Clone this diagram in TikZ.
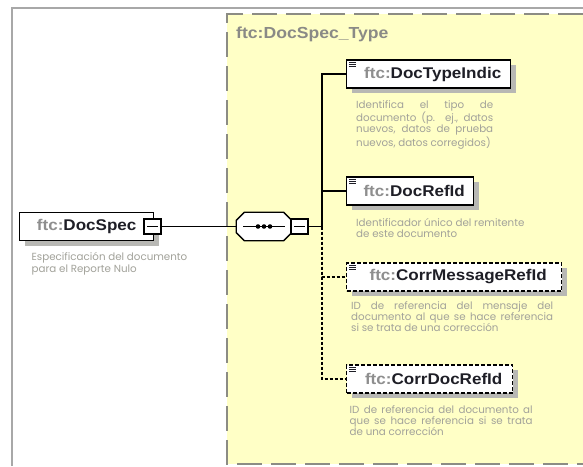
\documentclass[tikz,border=0pt]{standalone}
\usepackage{fontspec}
\usetikzlibrary{shadows}
\newfontfamily\namefont[FakeStretch=1.1]{Liberation Sans}
\newfontfamily\descfont{Poppins}
\definecolor{yellowbg}{HTML}{FFFFC6}
\definecolor{framecol}{HTML}{A8A8A8}
\definecolor{dashcol}{HTML}{8C8C84}
\definecolor{titlecol}{HTML}{8A8A86}
\definecolor{desccol}{HTML}{A2A29A}
\definecolor{prefcol}{HTML}{8E8E8E}
\definecolor{namecol}{HTML}{1E1E26}
\definecolor{shadowcol}{HTML}{B8B8B4}
\newcommand{\pref}[1]{\textcolor{prefcol}{#1}}
\tikzset{
  elem/.style={draw=black, line width=1.4pt, fill=white,
    font=\namefont\bfseries\fontsize{15.5}{18}\selectfont, text=namecol,
    minimum height=28, inner sep=0, anchor=west,
    drop shadow={shadow xshift=5pt, shadow yshift=-5pt, fill=shadowcol, opacity=1}},
  optelem/.style={elem, dash pattern=on 4pt off 2pt},
  minusbox/.style={draw=black, line width=1.3pt, fill=white, minimum width=17, minimum height=15, inner sep=0,
    path picture={\draw[line width=1.1pt] ([xshift=3pt]path picture bounding box.west) -- ([xshift=-3pt]path picture bounding box.east);}},
  seqbox/.style={draw=none, minimum width=55, minimum height=28, inner sep=0},
  desc/.style={font=\descfont\fontsize{10.3}{11.4}\selectfont, text=desccol, anchor=north west, inner sep=0},
  conn/.style={line width=1.3pt, draw=black},
  optconn/.style={line width=1.3pt, draw=black, dash pattern=on 3pt off 2pt},
  titlest/.style={font=\namefont\bfseries\fontsize{16}{19}\selectfont, text=titlecol, anchor=west, inner sep=0},
  icon/.style={line width=0.7pt, draw=namecol}
}
\newcommand{\octo}[1]{([xshift=8pt]#1.north west) -- ([xshift=-8pt]#1.north east) -- ([yshift=-8pt]#1.north east) -- ([yshift=8pt]#1.south east) -- ([xshift=-8pt]#1.south east) -- ([xshift=8pt]#1.south west) -- ([yshift=8pt]#1.south west) -- ([yshift=-8pt]#1.north west) -- cycle}
\begin{document}
\begin{tikzpicture}[x=1pt,y=-1pt]
\useasboundingbox (0,0) rectangle (583,466);
\fill[white] (0,0) rectangle (583,466);
% outer frame
\draw[framecol, line width=1.6pt] (12,466) -- (12,8) -- (583,8);
% type area
\fill[yellowbg] (227,14) rectangle (583,464);
\draw[dashcol, line width=1.5pt, dash pattern=on 25pt off 9pt] (583,14) -- (227,14) -- (227,464) -- (583,464);
\node[titlest] (title) at (236,34) {ftc:DocSpec\_Type};

% root element
\node[elem, minimum width=134] (spec) at (19,226.5) {\pref{ftc:}DocSpec};
\node[minusbox] (specm) at (152.5,226.5) {};
\node[desc, align=left] (dspec) at (31.5,252.5) {Especificación del documento\\para el Reporte Nulo};

% sequence compositor
\node[seqbox] (seq) at (264,226.5) {};
\fill[shadowcol, shift={(5,5)}] \octo{seq};
\draw[line width=1.3pt, fill=white] \octo{seq};
\draw[line width=1.1pt] ([xshift=7pt]seq.west) -- ([xshift=-7pt]seq.east);
\fill ([xshift=-6pt]seq.center) circle (2.3pt);
\fill (seq.center) circle (2.3pt);
\fill ([xshift=6pt]seq.center) circle (2.3pt);
\node[minusbox] (seqm) at (299.5,226.5) {};
\draw[conn] (specm.east) -- (seq.west);

% children
\node[elem, minimum width=164] (n1) at (346,74) {\hspace*{8pt}\pref{ftc:}DocTypeIndic};
\node[elem, minimum width=127] (n2) at (346,191) {\hspace*{8pt}\pref{ftc:}DocRefId};
\node[optelem, minimum width=215] (n3) at (346,277) {\hspace*{8pt}\pref{ftc:}CorrMessageRefId};
\node[optelem, minimum width=166] (n4) at (346,379) {\hspace*{8pt}\pref{ftc:}CorrDocRefId};
\foreach \n in {n1,n2,n3,n4}{
  \foreach \d in {3,5,7}{
    \draw[icon] ([xshift=3pt,yshift=-\d pt]\n.north west) -- ++(7,0);
  }
}

\coordinate (j) at (322,226.5);
\draw[conn] (seqm.east) -- (j);
\draw[conn] (j) |- (n1.west);
\draw[conn] (j) |- (n2.west);
\draw[optconn] (j) |- (n3.west);
\draw[optconn] (j) |- (n4.west);

% descriptions
\node[desc, text width=137, align=justify] (d1) at (356,100) {Identifica el tipo de\linebreak documento (p. ej., datos\linebreak nuevos, datos de prueba\linebreak nuevos, datos corregidos)};
\node[desc, align=left] (d2) at (356,218) {Identificador único del remitente\\de este documento};
\node[desc, text width=202, align=justify] (d3) at (351,301) {ID de referencia del mensaje del\linebreak documento al que se hace referencia\linebreak si se trata de una corrección};
\node[desc, text width=183, align=justify] (d4) at (349.5,405) {ID de referencia del documento al\linebreak que se hace referencia si se trata\linebreak de una corrección};
\end{tikzpicture}
\end{document}
